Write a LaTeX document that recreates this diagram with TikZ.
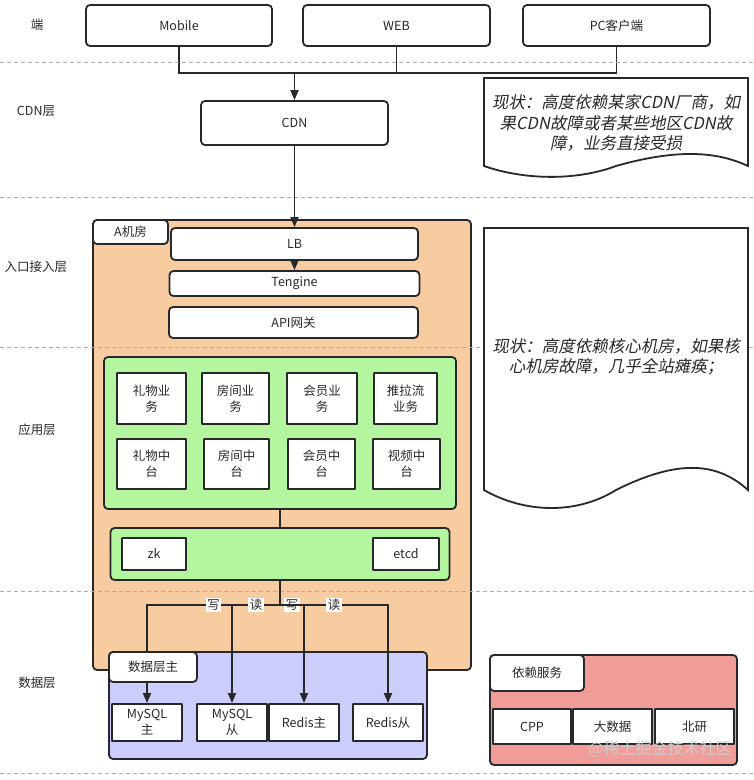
\documentclass[tikz,border=0pt]{standalone}
\usepackage{fontspec}
\setmainfont{Noto Sans CJK SC}
\newfontfamily\notefont[FakeSlant=0.2]{Noto Sans CJK SC}
\usetikzlibrary{arrows.meta}
\definecolor{RoomOrange}{RGB}{248,204,161}
\definecolor{AppGreen}{RGB}{180,246,160}
\definecolor{DataBlue}{RGB}{205,205,252}
\definecolor{DepPink}{RGB}{240,157,154}
\definecolor{EdgeGray}{RGB}{40,40,42}
\newcommand{\layerline}[1]{%
    \draw[gray!65,dash pattern=on 4pt off 3pt,line width=0.9pt] (0,#1)--(754,#1);
}

\begin{document}
\begin{tikzpicture}[x=1pt,y=-1pt,
    every node/.style={font=\fontsize{12.5}{16}\selectfont,text=EdgeGray},
    sz/.style 2 args={minimum width=#1,minimum height=#2},
    box/.style={draw=EdgeGray,line width=1.8pt,rounded corners=4pt,fill=white,align=center,inner sep=0pt},
    sbox/.style={box,rounded corners=0.5pt},
    group/.style={draw=EdgeGray,line width=1.8pt,rounded corners=4pt,inner sep=0pt},
    wire/.style={EdgeGray,line width=1.8pt},
    flow/.style={wire,-{Triangle[length=10pt,width=8pt]}},
    rw/.style={fill=white,inner sep=1.5pt,pos=0.25},
    note/.style={draw=EdgeGray,line width=1.8pt,fill=white},
    notetext/.style={font=\notefont\fontsize{16.5}{20.5}\selectfont,align=center}]
    \useasboundingbox (0,0) rectangle (754,780);

    % layer names
    \node (lEnd) at (37,25) {端};
    \node (lCdn) at (36,111) {CDN层};
    \node (lEntry) at (36,267) {入口接入层};
    \node (lApp) at (37,430) {应用层};
    \node (lData) at (37,683) {数据层};

    % clients
    \node[box,sz={186}{41}] (mobile) at (179,25.5) {Mobile};
    \node[box,sz={187}{41}] (web) at (396.5,25.5) {WEB};
    \node[box,sz={187}{41}] (pc) at (616.5,25.5) {PC客户端};
    \node[box,sz={187}{44}] (cdn) at (294.5,123) {CDN};
    \coordinate (merge) at (294.5,73);
    \draw[wire] (mobile.south) |- (merge);
    \draw[wire] (web.south) |- (merge);
    \draw[wire] (pc.south) |- (merge);
    \draw[flow] (merge) -- (cdn.north);

    % room A
    \node[group,fill=RoomOrange,sz={378}{450}] (roomA) at (282,445) {};
    \layerline{62}
    \layerline{197}
    \layerline{347}
    \layerline{591}
    \layerline{773}
    \node[box,sz={75}{24}] (roomLbl) at (130.5,232) {A机房};
    \node[box,sz={247}{32}] (lb) at (294.5,244) {LB};
    \node[box,sz={250}{25}] (tengine) at (294.5,283.5) {Tengine};
    \node[box,sz={249}{31}] (gateway) at (293.5,322.5) {API网关};
    \draw[flow] (cdn.south) -- (lb.north);
    \draw[flow] (lb.south) -- (tengine.north);

    % applications
    \node[group,fill=AppGreen,sz={352}{152}] (apps) at (280,433) {};
    \node[sbox,sz={69}{51}] (giftBiz) at (151.5,398.5) {礼物业\\务};
    \node[sbox,sz={67}{51}] (roomBiz) at (235.5,398.5) {房间业\\务};
    \node[sbox,sz={70}{51}] (vipBiz) at (322,398.5) {会员业\\务};
    \node[sbox,sz={63}{51}] (pushBiz) at (405.5,398.5) {推拉流\\业务};
    \node[sbox,sz={69}{50}] (giftMid) at (151.5,464) {礼物中\\台};
    \node[sbox,sz={65}{50}] (roomMid) at (236.5,464) {房间中\\台};
    \node[sbox,sz={67}{50}] (vipMid) at (321.5,464) {会员中\\台};
    \node[sbox,sz={67}{50}] (videoMid) at (406.5,464) {视频中\\台};

    \node[group,fill=AppGreen,sz={339}{52}] (coord) at (280,554) {};
    \node[sbox,sz={64}{32}] (zk) at (154,554) {zk};
    \node[sbox,sz={66}{32}] (etcd) at (406,554) {etcd};
    \draw[wire] (apps.south) -- (coord.north);

    % data layer
    \node[group,fill=DataBlue,sz={318}{107}] (data) at (268,705.5) {};
    \coordinate (split) at (280,605);
    \draw[wire] (coord.south) -- (split);
    \node[sbox,sz={70}{37}] (mysqlM) at (147,722.5) {MySQL\\主};
    \node[sbox,sz={70}{37}] (mysqlS) at (232,722.5) {MySQL\\从};
    \node[sbox,sz={70}{37}] (redisM) at (304,722.5) {Redis主};
    \node[sbox,sz={70}{37}] (redisS) at (388,722.5) {Redis从};
    \draw[flow] (split) -| (mysqlM.north) node[rw] {写};
    \draw[flow] (split) -| (mysqlS.north) node[rw] {读};
    \draw[flow] (split) -| (redisM.north) node[rw] {写};
    \draw[flow] (split) -| (redisS.north) node[rw] {读};
    \node[box,sz={88}{30}] (dataLbl) at (153,667) {数据层主};

    % dependencies
    \node[group,fill=DepPink,sz={247}{110}] (deps) at (613.5,710) {};
    \node[box,sz={94}{36}] (depsLbl) at (537,673) {依赖服务};
    \node[sbox,sz={78}{35}] (cpp) at (532,726.5) {CPP};
    \node[sbox,sz={79}{35}] (bigdata) at (612.5,726.5) {大数据};
    \node[sbox,sz={79}{35}] (beiyan) at (694.5,726.5) {北研};
    \node[text=gray!40,font=\fontsize{16}{18}\selectfont] (mark) at (660,749) {@稀土掘金技术社区};

    % notes
    \draw[note] (484,78) -- (748,78) -- (748,166) .. controls (716,151) and (676,149) .. (616,166)
        .. controls (576,181) and (524,180) .. (484,166) -- cycle;
    \node[notetext] (note1) at (616,123) {现状：高度依赖某家CDN厂商，如\\果CDN故障或者某些地区CDN故\\障，业务直接受损};
    \draw[note] (484,228) -- (748,228) -- (748,490) .. controls (716,461) and (676,460) .. (616,490)
        .. controls (576,515) and (524,513) .. (484,490) -- cycle;
    \node[notetext] (note2) at (616,357) {现状：高度依赖核心机房，如果核\\心机房故障，几乎全站瘫痪；};
\end{tikzpicture}
\end{document}
